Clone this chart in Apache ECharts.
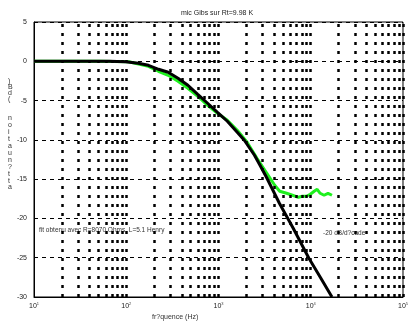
<!DOCTYPE html>
<html>
<head>
<meta charset="utf-8">
<script src="https://cdn.jsdelivr.net/npm/echarts@6/dist/echarts.min.js"></script>
<style>
  html, body { margin: 0; padding: 0; background: #fff; }
  #chart { width: 411px; height: 328px; }
</style>
</head>
<body>
<div id="chart"></div>
<script>
// Fitted first-order response (R=8070 Ohms, L=5.1 Henry)
const fitFreq = [10, 31, 65, 98, 135, 174, 224, 285, 364, 466, 596, 762, 975, 1247, 1596, 1905, 2455, 2818, 3311, 4571, 6457, 9550, 12880, 16980];
const fitDb   = [0, 0, 0, -0.06, -0.25, -0.51, -1.02, -1.40, -2.16, -3.05, -4.20, -5.34, -6.49, -7.63, -9.03, -10.05, -11.96, -13.23, -14.76, -18.07, -21.25, -25.07, -27.61, -30.0];

// Measured attenuation of the microphone
const mesFreq = [10, 51, 106, 174, 223, 285, 364, 466, 596, 762, 975, 1247, 1596, 2042, 2612, 3342, 4070, 4607, 5470, 6340, 7340, 8110, 8950, 9890, 10900, 11740, 12650, 13940, 15390, 16980];
const mesDb   = [0, 0, -0.06, -0.64, -1.27, -1.78, -2.54, -3.44, -4.45, -5.60, -6.62, -7.51, -8.78, -10.31, -12.34, -14.25, -15.78, -16.54, -16.80, -17.05, -17.31, -17.18, -17.18, -16.92, -16.54, -16.29, -16.80, -17.05, -16.80, -17.05];

// Axis ticks
const xDecades = [10, 100, 1000, 10000, 100000];
const xExponents = ['1', '2', '3', '4', '5'];
const yTicks = [5, 0, -5, -10, -15, -20, -25, -30];

// Texts
const titleText = 'mic Gibs sur Rt=9.98 K';
const xLabel = 'fr?quence (Hz)';
const yLabelTop = ')Bd(';
const yLabelBottom = 'noitaun?tta';
const fitNote = 'fit obtenu avec R=8070 Ohms, L=5.1 Henry';
const slopeNote = '-20 dB/d?cade';

const toPairs = (xs, ys) => xs.map((x, i) => [x, ys[i]]);

// vertical grid at every 2..10 x decade
const vGrid = [];
for (let d = 0; d < xDecades.length - 1; d++) {
  for (let m = 2; m <= 10; m++) vGrid.push({ xAxis: xDecades[d] * m });
}

const chart = echarts.init(document.getElementById('chart'), null, { renderer: 'canvas' });
const textFont = 'Liberation Sans, Arial, sans-serif';

chart.setOption({
  animation: false,
  backgroundColor: '#fff',
  grid: {
    left: 34, right: 3, top: 22, bottom: 31,
    show: true, borderColor: '#000', borderWidth: 1, backgroundColor: 'transparent'
  },
  title: {
    text: titleText, left: 212, top: 5, textAlign: 'center',
    textStyle: { fontFamily: textFont, fontSize: 7, fontWeight: 'normal', color: '#222' }
  },
  xAxis: {
    type: 'log', logBase: 10, min: 10, max: 100000,
    axisLine: { show: true, onZero: false, lineStyle: { color: '#000', width: 1 } },
    axisTick: { show: false },
    splitLine: { show: false },
    axisLabel: {
      margin: 5,
      formatter: v => {
        const i = xDecades.indexOf(Math.round(v));
        return i < 0 ? '' : '{b|10}{s|' + xExponents[i] + '}';
      },
      rich: {
        b: { fontFamily: textFont, fontSize: 7, color: '#222' },
        s: { fontFamily: textFont, fontSize: 4, color: '#444', verticalAlign: 'top', padding: [0, 0, 4, 0] }
      }
    }
  },
  yAxis: {
    type: 'value', min: yTicks[yTicks.length - 1], max: yTicks[0], interval: 5,
    axisLine: { show: true, lineStyle: { color: '#000', width: 1 } },
    axisTick: { show: false },
    axisLabel: { fontFamily: textFont, fontSize: 7, color: '#222', margin: 7 },
    splitLine: { show: true, lineStyle: { color: '#000', width: 1, type: [4, 4] } }
  },
  graphic: [
    { type: 'text', left: 8, top: 78, style: { text: yLabelTop.split('').join('\n'), font: '7px ' + textFont, fill: '#333', lineHeight: 5.7, align: 'center' } },
    { type: 'text', left: 8, top: 115, style: { text: yLabelBottom.split('').join('\n'), font: '7px ' + textFont, fill: '#333', lineHeight: 6.9, align: 'center' } },
    { type: 'text', left: 152, top: 314, style: { text: xLabel, font: '7px ' + textFont, fill: '#333' } },
    { type: 'text', left: 39, top: 227, style: { text: fitNote, font: '6.5px ' + textFont, fill: '#333' } },
    { type: 'text', left: 323, top: 230, style: { text: slopeNote, font: '6.5px ' + textFont, fill: '#333' } }
  ],
  series: [
    {
      name: 'grid', type: 'line', data: [], silent: true, z: 1,
      markLine: {
        silent: true, symbol: 'none', animation: false,
        label: { show: false },
        lineStyle: { color: '#000', width: 2.5, type: [3, 6] },
        data: vGrid
      }
    },
    {
      name: 'mesure', type: 'line', data: toPairs(mesFreq, mesDb), z: 3,
      showSymbol: false, smooth: false,
      lineStyle: { color: '#1ef01e', width: 3 }
    },
    {
      name: 'fit', type: 'line', data: toPairs(fitFreq, fitDb), z: 4,
      showSymbol: false, smooth: false,
      lineStyle: { color: '#000', width: 3 }
    }
  ]
});
</script>
</body>
</html>
